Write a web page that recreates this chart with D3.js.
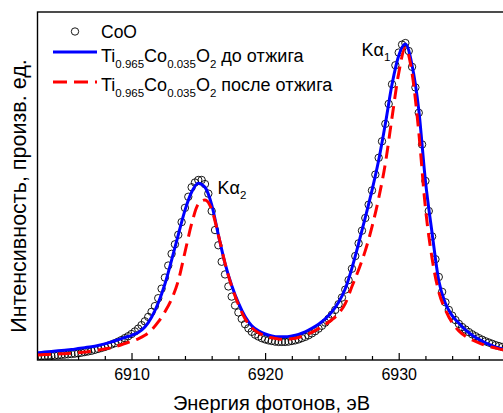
<!DOCTYPE html>
<html>
<head>
<meta charset="utf-8">
<script src="https://cdn.jsdelivr.net/npm/d3@7"></script>
<style>
  body { margin: 0; background: #fff; }
  text { font-family: "Liberation Sans", Arial, sans-serif; fill: #000; }
</style>
</head>
<body>
<div id="chart"></div>
<script>
// energies (eV) for the two fitted lines, 0.5 eV step
var lineEnergy = [
  6903.0, 6903.5, 6904.0, 6904.5, 6905.0, 6905.5, 6906.0, 6906.5, 6907.0, 6907.5,
  6908.0, 6908.5, 6909.0, 6909.5, 6910.0, 6910.5, 6911.0, 6911.5, 6912.0, 6912.5,
  6913.0, 6913.5, 6914.0, 6914.5, 6915.0, 6915.5, 6916.0, 6916.5, 6917.0, 6917.5,
  6918.0, 6918.5, 6919.0, 6919.5, 6920.0, 6920.5, 6921.0, 6921.5, 6922.0, 6922.5,
  6923.0, 6923.5, 6924.0, 6924.5, 6925.0, 6925.5, 6926.0, 6926.5, 6927.0, 6927.5,
  6928.0, 6928.5, 6929.0, 6929.5, 6930.0, 6930.5, 6931.0, 6931.5, 6932.0, 6932.5,
  6933.0, 6933.5, 6934.0, 6934.5, 6935.0, 6935.5, 6936.0, 6936.5, 6937.0, 6937.5,
  6938.0, 6938.5, 6939.0, 6939.5, 6940.0
];
// Ti0.965Co0.035O2 before annealing (blue)
var beforeVals = [
  0.023, 0.025, 0.027, 0.029, 0.031, 0.033, 0.036, 0.039, 0.042, 0.046,
  0.051, 0.057, 0.064, 0.071, 0.078, 0.087, 0.104, 0.135, 0.180, 0.240,
  0.315, 0.395, 0.472, 0.530, 0.558, 0.545, 0.490, 0.395, 0.305, 0.235,
  0.180, 0.137, 0.108, 0.092, 0.082, 0.076, 0.073, 0.073, 0.076, 0.081,
  0.089, 0.100, 0.113, 0.130, 0.152, 0.182, 0.225, 0.290, 0.368, 0.450,
  0.535, 0.630, 0.745, 0.870, 0.960, 0.997, 0.930, 0.790, 0.565, 0.400,
  0.250, 0.178, 0.140, 0.116, 0.095, 0.078, 0.065, 0.054, 0.045, 0.038,
  0.033, 0.029, 0.026, 0.023, 0.021
];
// Ti0.965Co0.035O2 after annealing (red dashed)
var afterVals = [
  0.016, 0.017, 0.018, 0.019, 0.020, 0.021, 0.023, 0.025, 0.028, 0.031,
  0.035, 0.039, 0.045, 0.052, 0.059, 0.067, 0.078, 0.095, 0.120, 0.152,
  0.192, 0.250, 0.340, 0.430, 0.492, 0.505, 0.475, 0.395, 0.305, 0.232,
  0.175, 0.130, 0.102, 0.086, 0.076, 0.070, 0.066, 0.065, 0.067, 0.071,
  0.078, 0.087, 0.099, 0.112, 0.127, 0.147, 0.178, 0.232, 0.285, 0.345,
  0.420, 0.510, 0.620, 0.765, 0.905, 0.985, 0.905, 0.720, 0.480, 0.320,
  0.215, 0.158, 0.118, 0.092, 0.075, 0.063, 0.054, 0.046, 0.040, 0.035,
  0.031, 0.028, 0.025, 0.022, 0.020
];
// CoO reference spectrum, 0.25 eV step
var cooEnergy = [
  6902.75, 6903.00, 6903.25, 6903.50, 6903.75, 6904.00, 6904.25, 6904.50,
  6904.75, 6905.00, 6905.25, 6905.50, 6905.75, 6906.00, 6906.25, 6906.50,
  6906.75, 6907.00, 6907.25, 6907.50, 6907.75, 6908.00, 6908.25, 6908.50,
  6908.75, 6909.00, 6909.25, 6909.50, 6909.75, 6910.00, 6910.25, 6910.50,
  6910.75, 6911.00, 6911.25, 6911.50, 6911.75, 6912.00, 6912.25, 6912.50,
  6912.75, 6913.00, 6913.25, 6913.50, 6913.75, 6914.00, 6914.25, 6914.50,
  6914.75, 6915.00, 6915.25, 6915.50, 6915.75, 6916.00, 6916.25, 6916.50,
  6916.75, 6917.00, 6917.25, 6917.50, 6917.75, 6918.00, 6918.25, 6918.50,
  6918.75, 6919.00, 6919.25, 6919.50, 6919.75, 6920.00, 6920.25, 6920.50,
  6920.75, 6921.00, 6921.25, 6921.50, 6921.75, 6922.00, 6922.25, 6922.50,
  6922.75, 6923.00, 6923.25, 6923.50, 6923.75, 6924.00, 6924.25, 6924.50,
  6924.75, 6925.00, 6925.25, 6925.50, 6925.75, 6926.00, 6926.25, 6926.50,
  6926.75, 6927.00, 6927.25, 6927.50, 6927.75, 6928.00, 6928.25, 6928.50,
  6928.75, 6929.00, 6929.25, 6929.50, 6929.75, 6930.00, 6930.25, 6930.50,
  6930.75, 6931.00, 6931.25, 6931.50, 6931.75, 6932.00, 6932.25, 6932.50,
  6932.75, 6933.00, 6933.25, 6933.50, 6933.75, 6934.00, 6934.25, 6934.50,
  6934.75, 6935.00, 6935.25, 6935.50, 6935.75, 6936.00, 6936.25, 6936.50,
  6936.75, 6937.00, 6937.25, 6937.50, 6937.75, 6938.00
];
var cooVals = [
  0.011, 0.011, 0.012, 0.012, 0.013, 0.013, 0.014, 0.015,
  0.016, 0.017, 0.018, 0.019, 0.020, 0.021, 0.023, 0.025,
  0.027, 0.029, 0.032, 0.035, 0.038, 0.041, 0.045, 0.049,
  0.053, 0.058, 0.063, 0.069, 0.075, 0.082, 0.090, 0.099,
  0.110, 0.122, 0.136, 0.152, 0.170, 0.195, 0.225, 0.260,
  0.298, 0.335, 0.365, 0.395, 0.435, 0.480, 0.515, 0.545,
  0.560, 0.568, 0.568, 0.555, 0.525, 0.470, 0.410, 0.362,
  0.310, 0.270, 0.232, 0.200, 0.172, 0.150, 0.130, 0.113,
  0.100, 0.089, 0.080, 0.074, 0.069, 0.065, 0.062, 0.060,
  0.058, 0.057, 0.057, 0.057, 0.058, 0.060, 0.062, 0.065,
  0.069, 0.073, 0.078, 0.084, 0.091, 0.099, 0.108, 0.118,
  0.130, 0.143, 0.158, 0.176, 0.197, 0.222, 0.252, 0.288,
  0.328, 0.368, 0.408, 0.448, 0.490, 0.535, 0.585, 0.638,
  0.690, 0.745, 0.808, 0.870, 0.930, 0.970, 0.995, 1.000,
  0.975, 0.925, 0.860, 0.780, 0.680, 0.565, 0.470, 0.390,
  0.318, 0.262, 0.215, 0.182, 0.158, 0.140, 0.126, 0.114,
  0.104, 0.096, 0.088, 0.081, 0.075, 0.069, 0.064, 0.059,
  0.055, 0.051, 0.047, 0.044, 0.041, 0.038
];
var majorTicks = [6910, 6920, 6930];
var minorTicks = [6904, 6906, 6908, 6912, 6914, 6916, 6918, 6922, 6924, 6926, 6928, 6932, 6934, 6936, 6938];

var W = 503, H = 413;
var plot = { left: 37.5, top: 12, bottom: 360 };

var x = d3.scaleLinear().domain([6903, 6940]).range([38, 532.3]);
var y = d3.scaleLinear().domain([0, 1.098]).range([plot.bottom, plot.top]);

var svg = d3.select('#chart').append('svg')
  .attr('width', W).attr('height', H);

svg.append('defs').append('clipPath').attr('id', 'clip')
  .append('rect')
  .attr('x', plot.left).attr('y', plot.top)
  .attr('width', W - plot.left + 40).attr('height', plot.bottom - plot.top);

// axes (ticks point inward)
var minorAxis = d3.axisBottom(x).tickValues(minorTicks).tickSize(-4).tickFormat('');
var majorAxis = d3.axisBottom(x).tickValues(majorTicks).tickSize(-7).tickPadding(9).tickFormat(d3.format('d'));

var gMinor = svg.append('g').attr('transform', 'translate(0,' + plot.bottom + ')').call(minorAxis);
var gMajor = svg.append('g').attr('transform', 'translate(0,' + plot.bottom + ')').call(majorAxis);
[gMinor, gMajor].forEach(function(g) {
  g.select('.domain').remove();
  g.selectAll('line').attr('stroke', '#000').attr('stroke-width', 1.2);
});
gMajor.selectAll('text')
  .style('font-family', '"Liberation Sans", Arial, sans-serif')
  .style('font-size', '16px')
  .attr('fill', '#000');

// frame
svg.append('rect')
  .attr('x', plot.left).attr('y', plot.top)
  .attr('width', W - plot.left + 20).attr('height', plot.bottom - plot.top)
  .attr('fill', 'none').attr('stroke', '#000').attr('stroke-width', 1.4);

var dataG = svg.append('g').attr('clip-path', 'url(#clip)');

// CoO circles
dataG.selectAll('circle.coo')
  .data(cooEnergy.map(function(e, i) { return [e, cooVals[i]]; }))
  .enter().append('circle')
  .attr('class', 'coo')
  .attr('cx', function(d) { return x(d[0]); })
  .attr('cy', function(d) { return y(d[1]); })
  .attr('r', 3.7)
  .attr('fill', 'none')
  .attr('stroke', '#000')
  .attr('stroke-width', 0.9);

var line = d3.line()
  .x(function(d) { return x(d[0]); })
  .y(function(d) { return y(d[1]); })
  .curve(d3.curveMonotoneX);

dataG.append('path')
  .datum(lineEnergy.map(function(e, i) { return [e, beforeVals[i]]; }))
  .attr('d', line)
  .attr('fill', 'none')
  .attr('stroke', '#0000ff')
  .attr('stroke-width', 3);

dataG.append('path')
  .datum(lineEnergy.map(function(e, i) { return [e, afterVals[i]]; }))
  .attr('d', line)
  .attr('fill', 'none')
  .attr('stroke', '#ff0000')
  .attr('stroke-width', 3)
  .attr('stroke-dasharray', '13,7');

// legend
var leg = svg.append('g');
leg.append('circle').attr('cx', 75).attr('cy', 31.5).attr('r', 3.7)
  .attr('fill', 'none').attr('stroke', '#000').attr('stroke-width', 0.9);
leg.append('text').attr('x', 101).attr('y', 37.5).style('font-size', '17.5px').text('CoO');

leg.append('line').attr('x1', 53).attr('x2', 97).attr('y1', 52).attr('y2', 52)
  .attr('stroke', '#0000ff').attr('stroke-width', 3);
leg.append('line').attr('x1', 53).attr('x2', 97).attr('y1', 82).attr('y2', 82)
  .attr('stroke', '#ff0000').attr('stroke-width', 3).attr('stroke-dasharray', '14,7');

function formula(yBase, tail) {
  var t = leg.append('text').attr('x', 101).attr('y', yBase).style('font-size', '18px');
  var parts = [['Ti', 0], ['0.965', 1], ['Co', 0], ['0.035', 1], ['O', 0], ['2', 1], [tail, 0]];
  var prevSub = false;
  parts.forEach(function(p) {
    var s = t.append('tspan').text(p[0]);
    if (p[1] && !prevSub) s.attr('dy', 6).style('font-size', '11.5px');
    else if (!p[1] && prevSub) s.attr('dy', -6);
    prevSub = !!p[1];
  });
}
formula(61.5, ' до отжига');
formula(91, ' после отжига');

// peak labels
function peakLabel(px, py, sub) {
  var t = svg.append('text').attr('x', px).attr('y', py).style('font-size', '18px');
  t.append('tspan').text('K\u03b1');
  t.append('tspan').attr('dy', 5).style('font-size', '11.5px').text(sub);
}
peakLabel(361.5, 56, '1');
peakLabel(217.5, 193.5, '2');

// axis titles
svg.append('text')
  .attr('x', 271.5).attr('y', 410)
  .attr('text-anchor', 'middle')
  .style('font-size', '20px')
  .text('Энергия фотонов, эВ');

svg.append('text')
  .attr('transform', 'translate(25.5,196) rotate(-90)')
  .attr('text-anchor', 'middle')
  .style('font-size', '21.5px')
  .text('Интенсивность, произв. ед.');
</script>
</body>
</html>
